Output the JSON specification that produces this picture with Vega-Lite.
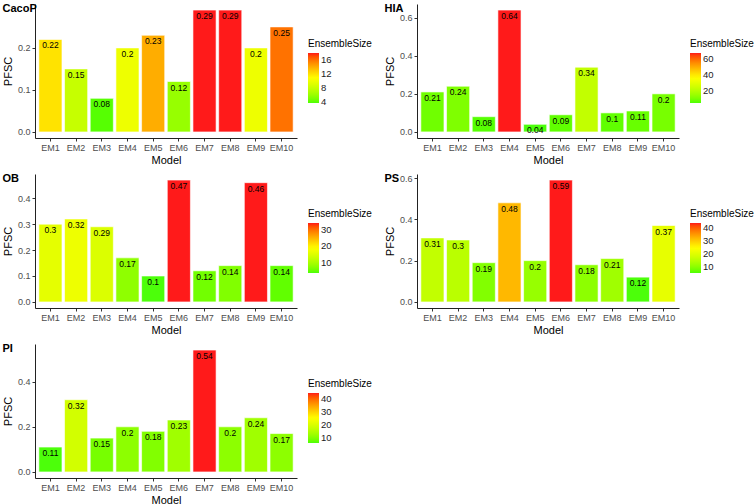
{
  "$schema": "https://vega.github.io/schema/vega-lite/v6.json",
  "padding": {"left": 2, "top": 3, "right": 0, "bottom": 0},
  "background": "white",
  "datasets": {
    "all": [
      {"Property": "CacoP", "Model": "EM1", "PFSC": 0.22, "EnsembleSize": 12},
      {"Property": "CacoP", "Model": "EM2", "PFSC": 0.15, "EnsembleSize": 8},
      {"Property": "CacoP", "Model": "EM3", "PFSC": 0.08, "EnsembleSize": 4},
      {"Property": "CacoP", "Model": "EM4", "PFSC": 0.2, "EnsembleSize": 10},
      {"Property": "CacoP", "Model": "EM5", "PFSC": 0.23, "EnsembleSize": 14},
      {"Property": "CacoP", "Model": "EM6", "PFSC": 0.12, "EnsembleSize": 6},
      {"Property": "CacoP", "Model": "EM7", "PFSC": 0.29, "EnsembleSize": 18},
      {"Property": "CacoP", "Model": "EM8", "PFSC": 0.29, "EnsembleSize": 18},
      {"Property": "CacoP", "Model": "EM9", "PFSC": 0.2, "EnsembleSize": 10},
      {"Property": "CacoP", "Model": "EM10", "PFSC": 0.25, "EnsembleSize": 16},
      {"Property": "HIA", "Model": "EM1", "PFSC": 0.21, "EnsembleSize": 8},
      {"Property": "HIA", "Model": "EM2", "PFSC": 0.24, "EnsembleSize": 10},
      {"Property": "HIA", "Model": "EM3", "PFSC": 0.08, "EnsembleSize": 5},
      {"Property": "HIA", "Model": "EM4", "PFSC": 0.64, "EnsembleSize": 68},
      {"Property": "HIA", "Model": "EM5", "PFSC": 0.04, "EnsembleSize": 4},
      {"Property": "HIA", "Model": "EM6", "PFSC": 0.09, "EnsembleSize": 6},
      {"Property": "HIA", "Model": "EM7", "PFSC": 0.34, "EnsembleSize": 22},
      {"Property": "HIA", "Model": "EM8", "PFSC": 0.1, "EnsembleSize": 6},
      {"Property": "HIA", "Model": "EM9", "PFSC": 0.11, "EnsembleSize": 7},
      {"Property": "HIA", "Model": "EM10", "PFSC": 0.2, "EnsembleSize": 9},
      {"Property": "OB", "Model": "EM1", "PFSC": 0.3, "EnsembleSize": 16},
      {"Property": "OB", "Model": "EM2", "PFSC": 0.32, "EnsembleSize": 17},
      {"Property": "OB", "Model": "EM3", "PFSC": 0.29, "EnsembleSize": 15},
      {"Property": "OB", "Model": "EM4", "PFSC": 0.17, "EnsembleSize": 8},
      {"Property": "OB", "Model": "EM5", "PFSC": 0.1, "EnsembleSize": 4},
      {"Property": "OB", "Model": "EM6", "PFSC": 0.47, "EnsembleSize": 34},
      {"Property": "OB", "Model": "EM7", "PFSC": 0.12, "EnsembleSize": 6},
      {"Property": "OB", "Model": "EM8", "PFSC": 0.14, "EnsembleSize": 7},
      {"Property": "OB", "Model": "EM9", "PFSC": 0.46, "EnsembleSize": 34},
      {"Property": "OB", "Model": "EM10", "PFSC": 0.14, "EnsembleSize": 5},
      {"Property": "PS", "Model": "EM1", "PFSC": 0.31, "EnsembleSize": 16},
      {"Property": "PS", "Model": "EM2", "PFSC": 0.3, "EnsembleSize": 15},
      {"Property": "PS", "Model": "EM3", "PFSC": 0.19, "EnsembleSize": 9},
      {"Property": "PS", "Model": "EM4", "PFSC": 0.48, "EnsembleSize": 32},
      {"Property": "PS", "Model": "EM5", "PFSC": 0.2, "EnsembleSize": 11},
      {"Property": "PS", "Model": "EM6", "PFSC": 0.59, "EnsembleSize": 44},
      {"Property": "PS", "Model": "EM7", "PFSC": 0.18, "EnsembleSize": 10},
      {"Property": "PS", "Model": "EM8", "PFSC": 0.21, "EnsembleSize": 12},
      {"Property": "PS", "Model": "EM9", "PFSC": 0.12, "EnsembleSize": 5},
      {"Property": "PS", "Model": "EM10", "PFSC": 0.37, "EnsembleSize": 21},
      {"Property": "PI", "Model": "EM1", "PFSC": 0.11, "EnsembleSize": 6},
      {"Property": "PI", "Model": "EM2", "PFSC": 0.32, "EnsembleSize": 19},
      {"Property": "PI", "Model": "EM3", "PFSC": 0.15, "EnsembleSize": 9},
      {"Property": "PI", "Model": "EM4", "PFSC": 0.2, "EnsembleSize": 11},
      {"Property": "PI", "Model": "EM5", "PFSC": 0.18, "EnsembleSize": 10},
      {"Property": "PI", "Model": "EM6", "PFSC": 0.23, "EnsembleSize": 13},
      {"Property": "PI", "Model": "EM7", "PFSC": 0.54, "EnsembleSize": 45},
      {"Property": "PI", "Model": "EM8", "PFSC": 0.2, "EnsembleSize": 11},
      {"Property": "PI", "Model": "EM9", "PFSC": 0.24, "EnsembleSize": 13},
      {"Property": "PI", "Model": "EM10", "PFSC": 0.17, "EnsembleSize": 11}
    ]
  },
  "data": {"name": "all"},
  "config": {
    "font": "Liberation Sans",
    "view": {"stroke": null},
    "axis": {"grid": false, "domainColor": "#222", "tickColor": "#333", "tickSize": 3, "labelColor": "#4d4d4d", "labelFontSize": 9, "labelFont": "Liberation Sans", "titleFont": "Liberation Sans", "titleFontSize": 11, "titleFontWeight": "normal", "titleColor": "black", "labelPadding": 2},
    "legend": {"titleFontWeight": "normal", "titleFontSize": 10, "titleColor": "black", "labelFontSize": 9.5, "labelColor": "#222", "labelOverlap": false, "gradientLength": 50, "gradientThickness": 11, "gradientStrokeWidth": 0, "titlePadding": 4},
    "title": {"anchor": "start", "frame": "bounds", "fontSize": 11, "fontWeight": "bold", "color": "black", "dy": 14, "offset": 0},
    "concat": {"spacing": 8}
  },
  "resolve": {"scale": {"color": "independent", "x": "independent", "y": "independent"}, "legend": {"color": "independent"}, "axis": {"x": "independent", "y": "independent"}},
  "vconcat": [
    {
      "resolve": {"scale": {"color": "independent", "x": "independent", "y": "independent"}, "legend": {"color": "independent"}},
      "spacing": 12,
      "hconcat": [
        {
          "title": "CacoP",
          "width": 262, "height": 134,
          "transform": [{"filter": "datum.Property === 'CacoP'"}],
          "encoding": {
            "x": {"field": "Model", "type": "nominal", "sort": ["EM1","EM2","EM3","EM4","EM5","EM6","EM7","EM8","EM9","EM10"], "scale": {"paddingInner": 0.1, "paddingOuter": 0.15}, "axis": {"labelAngle": 0, "title": "Model", "titlePadding": 2}},
            "y": {"field": "PFSC", "type": "quantitative", "scale": {"domain": [-0.0145, 0.3045], "nice": false, "zero": false}, "axis": {"values": [0, 0.1, 0.2], "format": ".1f", "title": "PFSC", "titlePadding": 4}}
          },
          "layer": [
            {"mark": {"type": "bar", "stroke": "white", "strokeWidth": 0.6}, "encoding": {"y2": {"datum": 0}, "color": {"field": "EnsembleSize", "type": "quantitative", "scale": {"domain": [3.8, 18], "range": ["#4cff0a", "#ffff00", "#ff1a1a"]}, "legend": {"orient": "none", "legendX": 273, "legendY": 35, "values": [4, 8, 12, 16], "labelBaseline": "middle"}}}},
            {"mark": {"type": "text", "baseline": "top", "dy": 2, "fontSize": 8.5, "color": "black"}, "encoding": {"text": {"field": "PFSC", "type": "quantitative"}}}
          ]
        },
        {
          "title": "HIA",
          "width": 262, "height": 134,
          "transform": [{"filter": "datum.Property === 'HIA'"}],
          "encoding": {
            "x": {"field": "Model", "type": "nominal", "sort": ["EM1","EM2","EM3","EM4","EM5","EM6","EM7","EM8","EM9","EM10"], "scale": {"paddingInner": 0.1, "paddingOuter": 0.15}, "axis": {"labelAngle": 0, "title": "Model", "titlePadding": 2}},
            "y": {"field": "PFSC", "type": "quantitative", "scale": {"domain": [-0.032, 0.672], "nice": false, "zero": false}, "axis": {"values": [0, 0.2, 0.4, 0.6], "format": ".1f", "title": "PFSC", "titlePadding": 4}}
          },
          "layer": [
            {"mark": {"type": "bar", "stroke": "white", "strokeWidth": 0.6}, "encoding": {"y2": {"datum": 0}, "color": {"field": "EnsembleSize", "type": "quantitative", "scale": {"range": ["#4cff0a", "#ffff00", "#ff1a1a"]}, "legend": {"orient": "none", "legendX": 273, "legendY": 35, "values": [20, 40, 60]}}}},
            {"mark": {"type": "text", "baseline": "top", "dy": 2, "fontSize": 8.5, "color": "black"}, "encoding": {"text": {"field": "PFSC", "type": "quantitative"}}}
          ]
        }
      ]
    },
    {
      "resolve": {"scale": {"color": "independent", "x": "independent", "y": "independent"}, "legend": {"color": "independent"}},
      "spacing": 12,
      "hconcat": [
        {
          "title": "OB",
          "width": 262, "height": 134,
          "transform": [{"filter": "datum.Property === 'OB'"}],
          "encoding": {
            "x": {"field": "Model", "type": "nominal", "sort": ["EM1","EM2","EM3","EM4","EM5","EM6","EM7","EM8","EM9","EM10"], "scale": {"paddingInner": 0.1, "paddingOuter": 0.15}, "axis": {"labelAngle": 0, "title": "Model", "titlePadding": 2}},
            "y": {"field": "PFSC", "type": "quantitative", "scale": {"domain": [-0.0235, 0.4935], "nice": false, "zero": false}, "axis": {"values": [0, 0.1, 0.2, 0.3, 0.4], "format": ".1f", "title": "PFSC", "titlePadding": 4}}
          },
          "layer": [
            {"mark": {"type": "bar", "stroke": "white", "strokeWidth": 0.6}, "encoding": {"y2": {"datum": 0}, "color": {"field": "EnsembleSize", "type": "quantitative", "scale": {"range": ["#4cff0a", "#ffff00", "#ff1a1a"]}, "legend": {"orient": "none", "legendX": 273, "legendY": 35, "values": [10, 20, 30]}}}},
            {"mark": {"type": "text", "baseline": "top", "dy": 2, "fontSize": 8.5, "color": "black"}, "encoding": {"text": {"field": "PFSC", "type": "quantitative"}}}
          ]
        },
        {
          "title": "PS",
          "width": 262, "height": 134,
          "transform": [{"filter": "datum.Property === 'PS'"}],
          "encoding": {
            "x": {"field": "Model", "type": "nominal", "sort": ["EM1","EM2","EM3","EM4","EM5","EM6","EM7","EM8","EM9","EM10"], "scale": {"paddingInner": 0.1, "paddingOuter": 0.15}, "axis": {"labelAngle": 0, "title": "Model", "titlePadding": 2}},
            "y": {"field": "PFSC", "type": "quantitative", "scale": {"domain": [-0.0295, 0.6195], "nice": false, "zero": false}, "axis": {"values": [0, 0.2, 0.4, 0.6], "format": ".1f", "title": "PFSC", "titlePadding": 4}}
          },
          "layer": [
            {"mark": {"type": "bar", "stroke": "white", "strokeWidth": 0.6}, "encoding": {"y2": {"datum": 0}, "color": {"field": "EnsembleSize", "type": "quantitative", "scale": {"range": ["#4cff0a", "#ffff00", "#ff1a1a"]}, "legend": {"orient": "none", "legendX": 273, "legendY": 35, "values": [10, 20, 30, 40]}}}},
            {"mark": {"type": "text", "baseline": "top", "dy": 2, "fontSize": 8.5, "color": "black"}, "encoding": {"text": {"field": "PFSC", "type": "quantitative"}}}
          ]
        }
      ]
    },
    {
      "title": "PI",
      "width": 262, "height": 134,
      "transform": [{"filter": "datum.Property === 'PI'"}],
      "encoding": {
        "x": {"field": "Model", "type": "nominal", "sort": ["EM1","EM2","EM3","EM4","EM5","EM6","EM7","EM8","EM9","EM10"], "scale": {"paddingInner": 0.1, "paddingOuter": 0.15}, "axis": {"labelAngle": 0, "title": "Model", "titlePadding": 2}},
        "y": {"field": "PFSC", "type": "quantitative", "scale": {"domain": [-0.027, 0.567], "nice": false, "zero": false}, "axis": {"values": [0, 0.2, 0.4], "format": ".1f", "title": "PFSC", "titlePadding": 4}}
      },
      "layer": [
        {"mark": {"type": "bar", "stroke": "white", "strokeWidth": 0.6}, "encoding": {"y2": {"datum": 0}, "color": {"field": "EnsembleSize", "type": "quantitative", "scale": {"range": ["#4cff0a", "#ffff00", "#ff1a1a"]}, "legend": {"orient": "none", "legendX": 273, "legendY": 35, "values": [10, 20, 30, 40]}}}},
        {"mark": {"type": "text", "baseline": "top", "dy": 2, "fontSize": 8.5, "color": "black"}, "encoding": {"text": {"field": "PFSC", "type": "quantitative"}}}
      ]
    }
  ]
}
